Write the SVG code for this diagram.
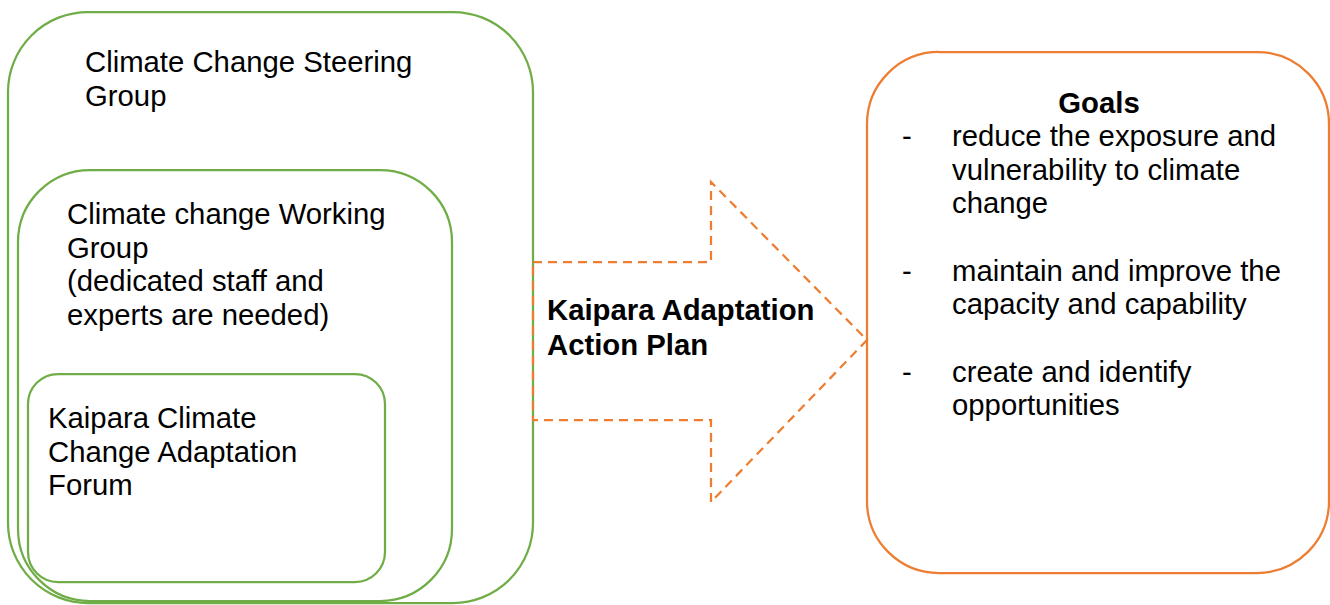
<svg xmlns="http://www.w3.org/2000/svg" width="1330" height="605" viewBox="0 0 1330 605">
<style>
.g{fill:#fff;stroke:#70AD47;stroke-width:2.25}
.o{fill:#fff;stroke:#ED7D31;stroke-width:2.25}
.t{font-family:"Liberation Sans",Arial,sans-serif;font-size:29.3px;fill:#000}
.b{font-weight:bold}
.arrow{fill:none;stroke:#ED7D31;stroke-width:2.25;stroke-dasharray:9,6}
</style>
<rect width="1330" height="605" fill="#fff"/>
<g id="steering">
<rect class="g" x="8" y="12" width="525" height="591" rx="80" ry="80"/>
<text class="t" x="85"><tspan x="85" y="72">Climate Change Steering</tspan><tspan x="85" y="105.6">Group</tspan></text>
</g>
<g id="working">
<rect class="g" x="18" y="170" width="434" height="431" rx="72" ry="72"/>
<text class="t"><tspan x="67" y="224">Climate change Working</tspan><tspan x="67" y="257.6">Group</tspan><tspan x="67" y="291.2">(dedicated staff and</tspan><tspan x="67" y="324.8">experts are needed)</tspan></text>
</g>
<g id="forum">
<rect class="g" x="28" y="374" width="357" height="208" rx="30" ry="30"/>
<text class="t"><tspan x="48" y="428">Kaipara Climate</tspan><tspan x="48" y="461.6">Change Adaptation</tspan><tspan x="48" y="495.2">Forum</tspan></text>
</g>
<g id="goals">
<rect class="o" x="867" y="52" width="462" height="521" rx="72" ry="72"/>
<text class="t b" x="1099" y="113" text-anchor="middle">Goals</text>
<text class="t"><tspan x="902" y="146">-</tspan><tspan x="952" y="146">reduce the exposure and</tspan><tspan x="952" y="179.6">vulnerability to climate</tspan><tspan x="952" y="213.2">change</tspan><tspan x="902" y="280.8">-</tspan><tspan x="952" y="280.8">maintain and improve the</tspan><tspan x="952" y="314.4">capacity and capability</tspan><tspan x="902" y="381.6">-</tspan><tspan x="952" y="381.6">create and identify</tspan><tspan x="952" y="415.2">opportunities</tspan></text>
</g>
<g id="connectors">
<path class="arrow" d="M533,262 H711 V182 L867,340 L711,502 V420 H533 Z"/>
</g>
<g id="action-plan">
<text class="t b"><tspan x="547" y="320">Kaipara Adaptation</tspan><tspan x="547" y="355">Action Plan</tspan></text>
</g>
</svg>
